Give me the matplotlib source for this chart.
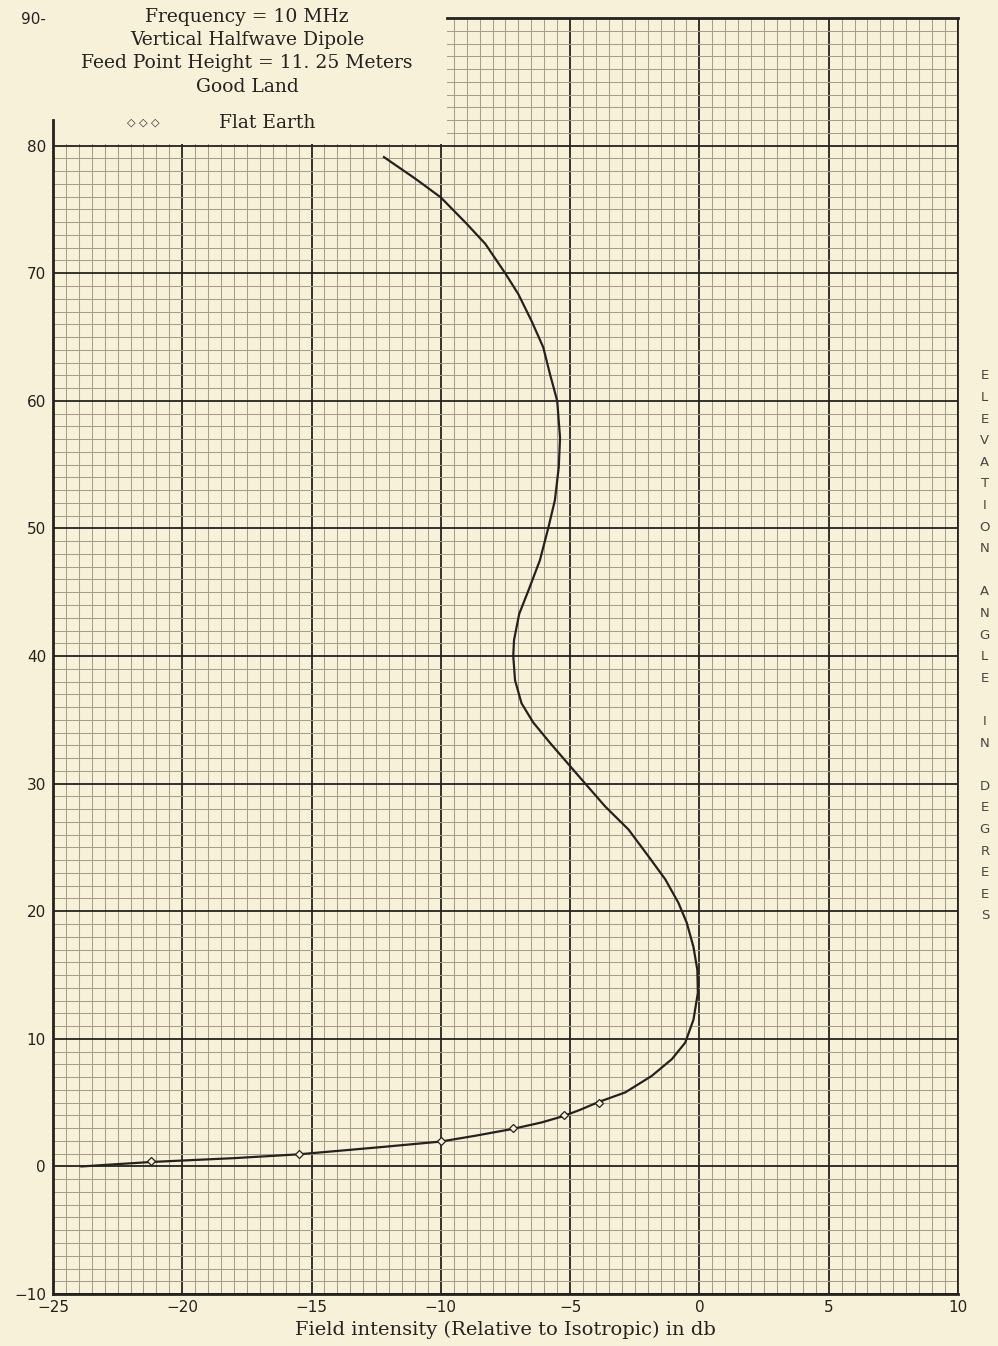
import matplotlib.pyplot as plt
from matplotlib.patches import Rectangle
from matplotlib.ticker import MultipleLocator

# Radiation pattern (field intensity in db, elevation in degrees)
curve_db = [-23.9, -21.2, -18.0, -15.5, -12.4, -10.0, -8.6, -7.2, -6.1, -5.25,
            -4.6, -3.9, -2.87, -1.84, -1.07, -0.55, -0.23, -0.06, -0.08, -0.23,
            -0.49, -0.81, -1.32, -1.97, -2.74, -3.64, -4.5, -4.97, -5.78, -6.43,
            -6.88, -7.13, -7.2, -7.17, -6.97, -6.62, -6.17, -5.85, -5.59, -5.44,
            -5.39, -5.5, -5.78, -6.04, -6.49, -7.0, -7.51, -8.28, -9.04, -10.0,
            -10.98, -12.2]
curve_deg = [0.0, 0.35, 0.65, 0.95, 1.5, 1.95, 2.43, 2.95, 3.45, 3.95,
             4.45, 5.05, 5.8, 7.1, 8.4, 9.7, 11.5, 13.6, 15.4, 17.2,
             19.1, 20.65, 22.5, 24.3, 26.4, 28.2, 30.2, 31.3, 33.2, 34.8,
             36.3, 38.1, 40.0, 41.25, 43.3, 45.1, 47.5, 50.0, 52.2, 54.8,
             57.1, 60.0, 62.1, 64.2, 66.25, 68.35, 70.0, 72.3, 73.96, 75.94,
             77.4, 79.1]

# Flat earth points
flat_db = [-21.2, -15.5, -10.0, -7.2, -5.25, -3.9]
flat_deg = [0.4, 1.0, 2.0, 3.0, 4.0, 5.0]

x_ticks = [-25, -20, -15, -10, -5, 0, 5, 10]
x_labels = ['\u221225', '\u221220', '\u221215', '\u221210', '\u22125', '0', '5', '10']
y_ticks = [-10, 0, 10, 20, 30, 40, 50, 60, 70, 80, 90]
y_labels = ['\u221210', '0', '10', '20', '30', '40', '50', '60', '70', '80', '90-']

paper = '#f7f1da'
ink = '#25221d'

fig = plt.figure(figsize=(9.98, 13.46), dpi=100)
fig.patch.set_facecolor(paper)
ax = fig.add_axes([0.0531, 0.0386, 0.9068, 0.948])
ax.set_facecolor(paper)
ax.set_xlim(-25, 10)
ax.set_ylim(-10, 90)

# graph paper grid
ax.xaxis.set_major_locator(MultipleLocator(5))
ax.yaxis.set_major_locator(MultipleLocator(10))
ax.xaxis.set_minor_locator(MultipleLocator(0.5))
ax.yaxis.set_minor_locator(MultipleLocator(1))
ax.set_axisbelow(True)
ax.grid(which='minor', color='#a59e8b', linewidth=0.75)
ax.grid(which='major', color=ink, linewidth=1.3)
ax.tick_params(which='both', length=0)

ax.set_xticks(x_ticks)
ax.set_xticklabels(x_labels)
ax.set_yticks(y_ticks)
ax.set_yticklabels(y_labels)
ax.tick_params(axis='x', labelsize=11, pad=4, colors=ink)
ax.tick_params(axis='y', labelsize=11, pad=5, colors=ink)

for side in ['left', 'bottom', 'right', 'top']:
    ax.spines[side].set_color(ink)
ax.spines['left'].set_linewidth(2.0)
ax.spines['left'].set_bounds(-10, 82)
ax.spines['bottom'].set_linewidth(2.0)
ax.spines['right'].set_linewidth(1.3)
ax.spines['top'].set_linewidth(2.0)
ax.spines['top'].set_bounds(-9.75, 10)

# blank area for the caption in the upper left
ax.add_patch(Rectangle((-25, 80.15), 15.25, 11, facecolor=paper, edgecolor='none',
                       zorder=1, clip_on=False))

ax.plot(curve_db, curve_deg, color=ink, linewidth=1.6, zorder=3)
ax.plot(flat_db, flat_deg, linestyle='none', marker='D', markersize=4,
        markerfacecolor=paper, markeredgecolor=ink, markeredgewidth=0.9, zorder=4)

# caption
cap = dict(ha='center', va='center', family='DejaVu Serif', fontsize=13.5, color=ink,
           clip_on=False, zorder=5)
ax.text(-17.5, 90.05, 'Frequency = 10 MHz', **cap)
ax.text(-17.5, 88.25, 'Vertical Halfwave Dipole', **cap)
ax.text(-17.5, 86.45, 'Feed Point Height = 11. 25 Meters', **cap)
ax.text(-17.5, 84.6, 'Good Land', **cap)
ax.text(-16.7, 81.75, 'Flat Earth', **cap)
ax.text(-21.5, 81.8, '\u25c7 \u25c7 \u25c7', ha='center', va='center', fontsize=8,
        color=ink, clip_on=False, zorder=5)

# side label
side = '\n'.join('ELEVATION ANGLE IN DEGREES')
ax.text(11.04, 40.8, side, ha='center', va='center', fontsize=9.5, color='#4a463e',
        linespacing=1.86, clip_on=False)

fig.text(505 / 998, 1 - 1330 / 1346, 'Field intensity (Relative to Isotropic) in db',
         ha='center', va='center', family='DejaVu Serif', fontsize=14, color=ink)

plt.savefig('out.png', dpi=100, facecolor=paper)
